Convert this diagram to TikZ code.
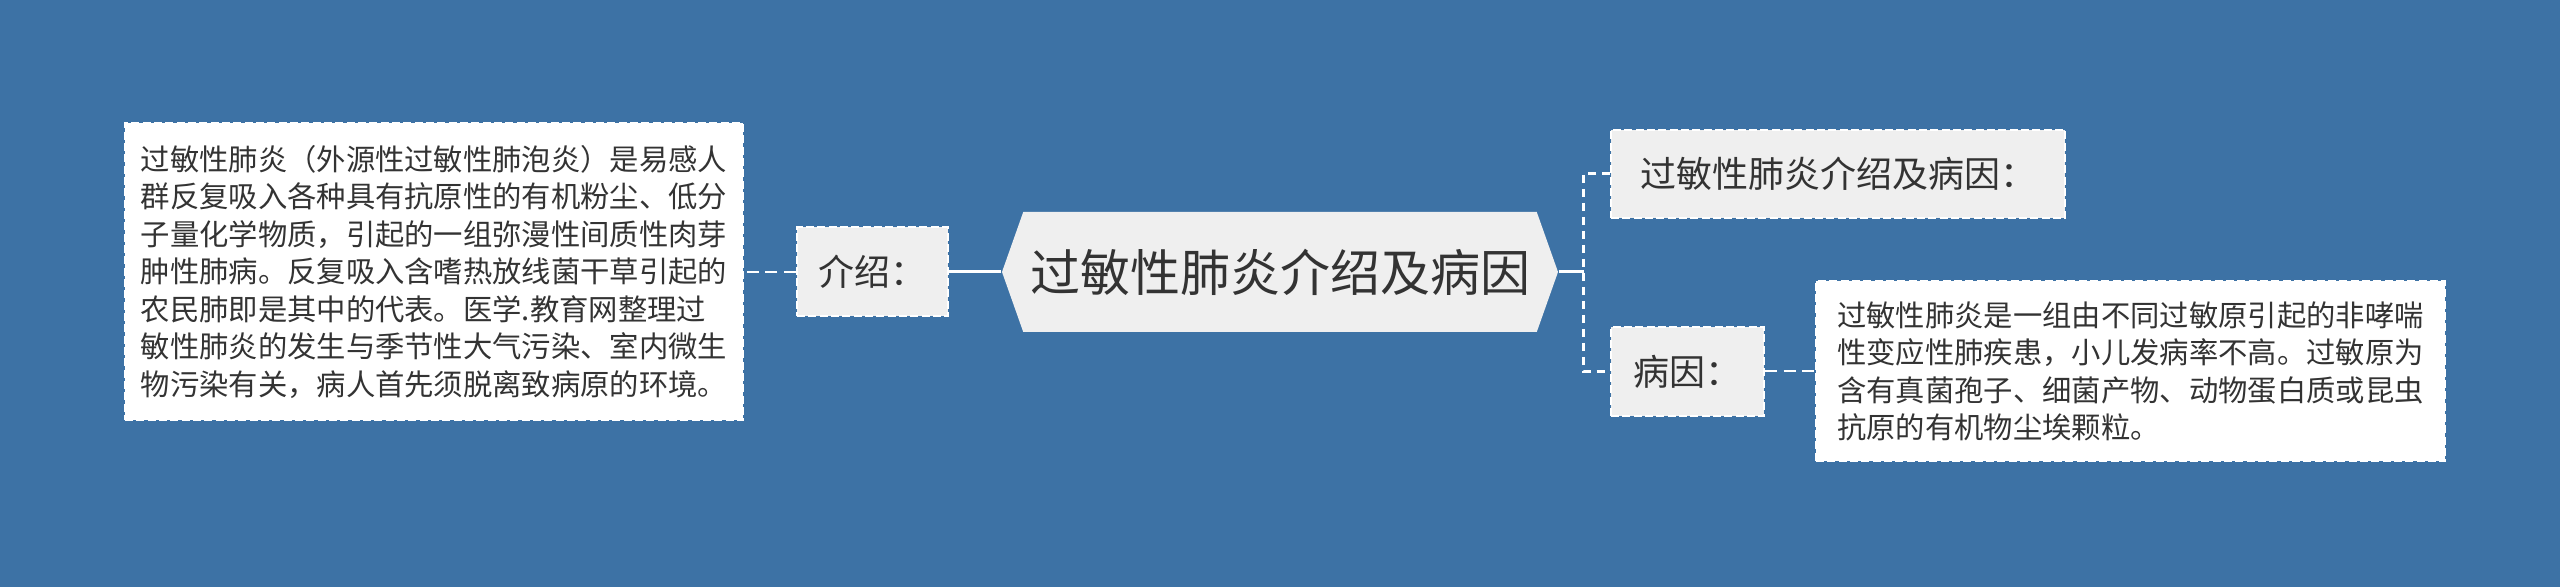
\documentclass[tikz,border=0pt]{standalone}
\usepackage{fontspec}
\setmainfont{Noto Sans CJK SC}
\usetikzlibrary{calc}
\usetikzlibrary{shapes.symbols}

\definecolor{bgblue}{HTML}{3D72A5}
\definecolor{boxgrey}{HTML}{EFEFEF}
\definecolor{inkgrey}{HTML}{333333}

\tikzset{
	leaf/.style={draw=white, line width=0.6pt, dash pattern=on 2.4pt off 1pt, fill=white, text=inkgrey, align=left, inner sep=0pt, font=\fontsize{8.8pt}{11.25pt}\selectfont},
	tag/.style={draw=white, line width=0.6pt, dash pattern=on 2.4pt off 1pt, fill=boxgrey, text=inkgrey, inner sep=0pt, font=\fontsize{10.8pt}{13pt}\selectfont},
	hub/.style={shape=signal, signal to=west and east, signal pointer angle=141, fill=boxgrey, text=inkgrey, inner sep=0pt, font=\fontsize{15pt}{17pt}\selectfont},
	link/.style={draw=white, line width=0.6pt, dash pattern=on 3.6pt off 2pt},
	trunk/.style={draw=white, line width=0.9pt, dash pattern=on 2.4pt off 1.8pt},
	spine/.style={draw=white, line width=0.9pt},
}

\begin{document}
\begin{tikzpicture}[x=0.3pt,y=-0.3pt]
	\def\px{0.3pt}

	\fill[bgblue] (0,0) rectangle (2560,587);
	\useasboundingbox (0,0) rectangle (2560,587);

	% centre
	\node[hub, minimum width=556*\px, minimum height=120*\px] (hub) at (1280,272) {过敏性肺炎介绍及病因};

	% left side
	\node[tag, minimum width=151*\px, minimum height=89*\px] (intro) at (872.5,272) {介绍：};
	\node[leaf, minimum width=618*\px, minimum height=297*\px] (introtext) at (434,272)
	{过敏性肺炎（外源性过敏性肺泡炎）是易感人\\
	群反复吸入各种具有抗原性的有机粉尘、低分\\
	子量化学物质，引起的一组弥漫性间质性肉芽\\
	肿性肺病。反复吸入含嗜热放线菌干草引起的\\
	农民肺即是其中的代表。医学.教育网整理过\\
	敏性肺炎的发生与季节性大气污染、室内微生\\
	物污染有关，病人首先须脱离致病原的环境。};

	% right side
	\node[tag, minimum width=454*\px, minimum height=88*\px] (title) at (1838,174) {过敏性肺炎介绍及病因：};
	\node[tag, minimum width=153*\px, minimum height=89*\px] (cause) at (1687.5,371.5) {病因：};
	\node[leaf, minimum width=629*\px, minimum height=180*\px] (causetext) at (2130.5,371.5)
	{过敏性肺炎是一组由不同过敏原引起的非哮喘\\
	性变应性肺疾患，小儿发病率不高。过敏原为\\
	含有真菌孢子、细菌产物、动物蛋白质或昆虫\\
	抗原的有机物尘埃颗粒。};

	\coordinate (fork) at (1584,272);

	\draw[spine] (hub.west) -- (intro.east);
	\draw[link] (intro.west) -- (introtext.east);

	\draw[spine] (hub.east) -- (fork);
	\draw[trunk] (title.west) -- ++(-27,0) |- (cause.west);
	\draw[link] (cause.east) -- (causetext.west);

\end{tikzpicture}
\end{document}
